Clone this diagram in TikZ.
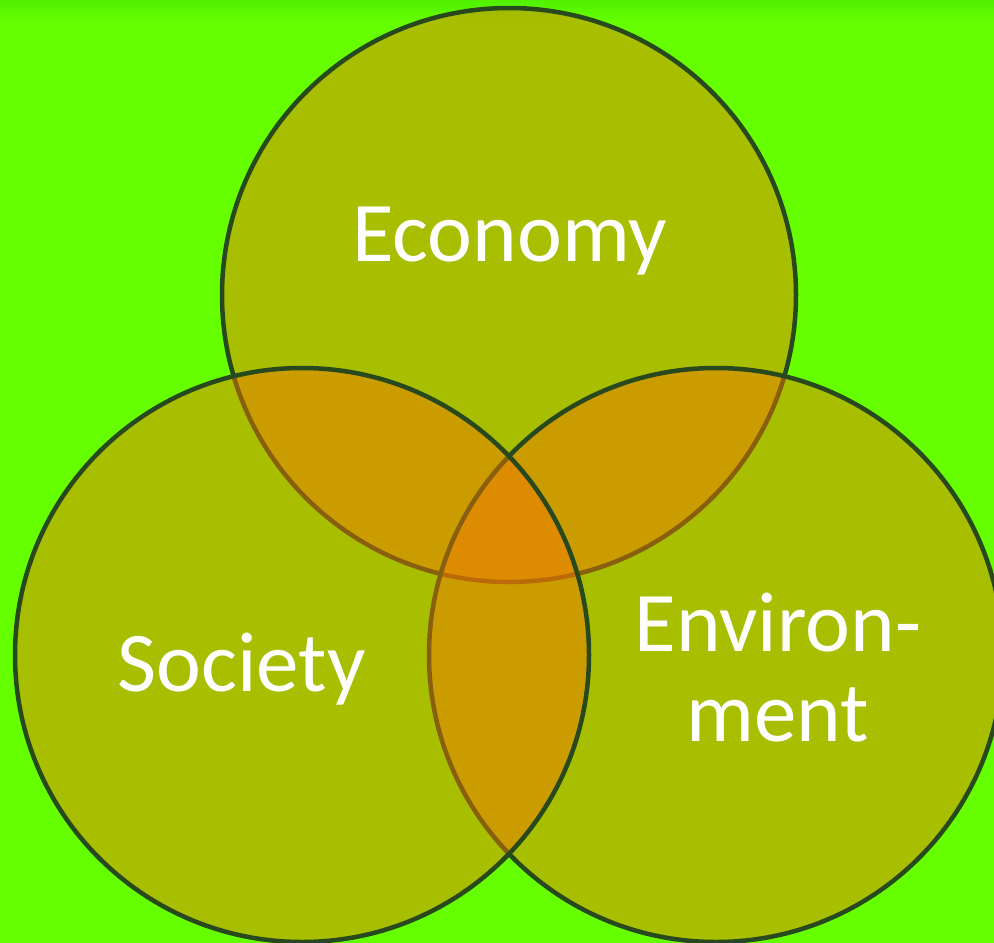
\documentclass[tikz,border=0pt]{standalone}
\usepackage{fontspec}
\setmainfont{Carlito}
\definecolor{bggreen}{RGB}{102,255,0}
\definecolor{topgreen}{RGB}{80,240,0}
\definecolor{vennfill}{RGB}{242,121,0}
\definecolor{vennline}{RGB}{40,72,30}
\begin{document}
\begin{tikzpicture}[x=1pt,y=-1pt]
% size of each circle
\def\sz{574pt}
% node style definition
\tikzstyle{venn} = [
	draw=vennline, line width=4.5pt, circle, fill=vennfill,
	fill opacity=0.48, draw opacity=1, minimum size=\sz, inner sep=0pt ];
\tikzstyle{label} = [
	draw=none, fill=none, text=white, align=center, inner sep=0pt,
	anchor=base, font=\fontsize{85}{90}\selectfont ];
% background
\fill[bggreen] (0,0) rectangle (994,943);
\shade[top color=topgreen, bottom color=bggreen, draw=none] (0,0) rectangle (994,22);
\useasboundingbox (0,0) rectangle (994,943);
% circles, society last (on top)
\node[venn] (economy) at (509,295) {};
\node[venn] (environment) at (716,655) {};
\node[venn] (society) at (302,655) {};
% texts
\node[label] (economytext) at (509.5,261) {Economy};
\node[label] (societytext) at (241.5,691) {Society};
\node[label] (environmenttext) at (778,741) {Environ-\\ment};
\end{tikzpicture}
\end{document}
